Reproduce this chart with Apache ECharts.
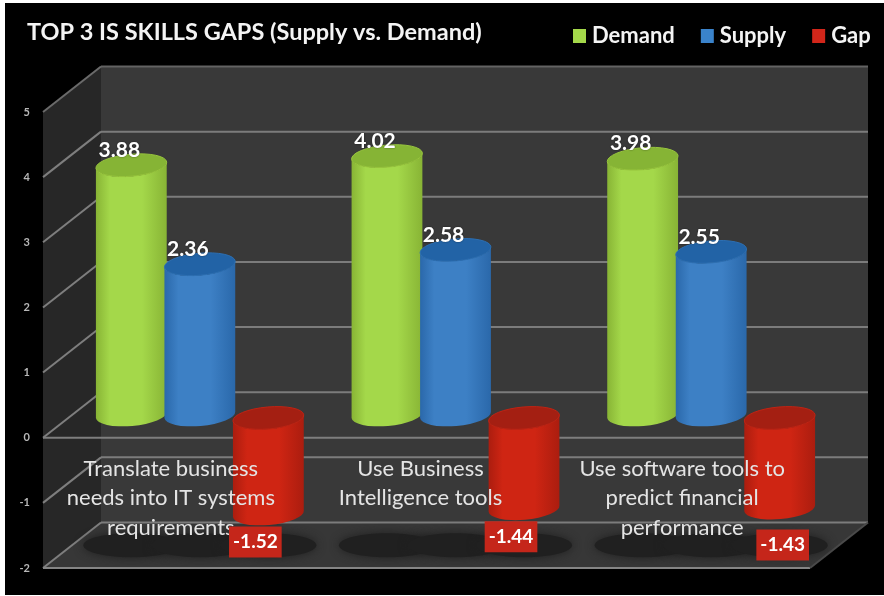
<!DOCTYPE html>
<html>
<head>
<meta charset="utf-8">
<title>Top 3 IS skills gaps</title>
<script src="https://cdn.jsdelivr.net/npm/echarts@6/dist/echarts.min.js"></script>
<style>
  html, body { margin: 0; padding: 0; background: #fff; }
  .frame { position: absolute; left: 5px; top: 3px; right: 0; bottom: 1px; background: #000; overflow: hidden; }
  #chart { position: absolute; left: -5px; top: -3px; width: 884px; height: 596px; filter: blur(0.5px); }
</style>
</head>
<body>
<div class="frame"><div id="chart"></div></div>
<script>
const categories = [
  'Translate business\nneeds into IT systems\nrequirements',
  'Use Business\nIntelligence tools',
  'Use software tools to\npredict financial\nperformance',
]
const demand = [3.88, 4.02, 3.98]
const supply = [2.36, 2.58, 2.55]
const gap = [-1.52, -1.44, -1.43]
const yTicks = [-2, -1, 0, 1, 2, 3, 4, 5]

// the gap boxes do not sit at the same place under each cylinder
const gapLabelNudge = [[-13, 28], [-13, 28], [3, 37]]
// right padding that pulls the middle category text off its band centre
const categoryPadRight = [0, 12, 0]

const FONT = 'Lato, "Open Sans", sans-serif'

// fake 3D: the back wall is the front plane pushed by this vector
const DEPTH_X = 58
const DEPTH_Y = -45.5
const TILT = 5 * Math.PI / 180
const CAP_DROP = 3

const palette = {
  demand: { edge: '#88b435', mid: '#a4d84a', top: '#86b435', rim: '#98c63d' },
  supply: { edge: '#2a68aa', mid: '#3d80c5', top: '#2263a6', rim: '#2c6fb3' },
  gap: { edge: '#ab1d0f', mid: '#cf2513', top: '#a41f12', rim: '#c02313' },
}

function hGrad(p) {
  return {
    type: 'linear', x: 0, y: 0, x2: 1, y2: 0,
    colorStops: [
      { offset: 0, color: p.edge },
      { offset: 0.2, color: p.mid },
      { offset: 0.65, color: p.mid },
      { offset: 1, color: p.edge },
    ],
  }
}

function renderWalls(params, api) {
  const cs = params.coordSys
  const left = cs.x
  const right = cs.x + cs.width
  const yAt = (v) => api.coord([0, v])[1]
  const top = yAt(5)
  const bottom = yAt(-2)
  const children = [
    { type: 'polygon', shape: { points: [[left, top], [left + DEPTH_X, top + DEPTH_Y], [left + DEPTH_X, bottom + DEPTH_Y], [left, bottom]] }, style: { fill: '#272727' } },
    { type: 'rect', shape: { x: left + DEPTH_X, y: top + DEPTH_Y, width: cs.width, height: cs.height }, style: { fill: '#393939' } },
    { type: 'polygon', shape: { points: [[left, bottom], [left + DEPTH_X, bottom + DEPTH_Y], [right + DEPTH_X, bottom + DEPTH_Y], [right, bottom]] }, style: { fill: '#373737' } },
  ]
  const line = (x1, y1, x2, y2, stroke) => ({
    type: 'line', shape: { x1, y1, x2, y2 }, style: { stroke, lineWidth: 2 },
  })
  yTicks.forEach((v) => {
    const y = yAt(v)
    children.push(line(left, y, left + DEPTH_X, y + DEPTH_Y, v === 5 ? '#6a6a6a' : '#7e7e7e'))
    children.push(line(left + DEPTH_X, y + DEPTH_Y, right + DEPTH_X, y + DEPTH_Y, v === 5 ? '#636363' : '#7c7c7c'))
  })
  children.push(line(left, yAt(0), right, yAt(0), '#7e7e7e'))
  children.push(line(left, bottom, right, bottom, '#858585'))
  children.push(line(right, bottom, right + DEPTH_X, bottom + DEPTH_Y, '#4a4a4a'))
  return { type: 'group', children }
}

function renderShadow(params, api) {
  const band = api.size([1, 0])[0]
  const c = api.coord([api.value(0), -2])
  const children = [-1, 0, 1].map((k) => ({
    type: 'ellipse',
    shape: { cx: c[0] + DEPTH_X / 2 + k * band * 0.268, cy: c[1] + DEPTH_Y / 2, rx: 48, ry: 12 },
    style: { fill: '#202020', shadowBlur: 10, shadowColor: '#202020' },
  }))
  return { type: 'group', children }
}

function cylinder(slot, p, withLabel) {
  return (params, api) => {
    const band = api.size([1, 0])[0]
    const a = band * 0.139
    const b = 11
    const i = api.value(0)
    const v = api.value(1)
    const cx = api.coord([i, 0])[0] + DEPTH_X / 2 + slot * band * 0.268
    const zeroY = api.coord([i, 0])[1] + DEPTH_Y / 2
    const valY = api.coord([i, v])[1] + DEPTH_Y / 2
    const yLabel = Math.min(zeroY, valY)
    const yTop = yLabel + CAP_DROP
    const yBot = Math.max(zeroY, valY)
    const dx = a * Math.cos(TILT)
    const dy = a * Math.sin(TILT)
    const rot = -5
    const body = `M${cx - dx} ${yTop + dy}L${cx - dx} ${yBot + dy}A${a} ${b} ${rot} 0 0 ${cx + dx} ${yBot - dy}L${cx + dx} ${yTop - dy}A${a} ${b} ${rot} 0 1 ${cx - dx} ${yTop + dy}Z`
    const cap = `M${cx - dx} ${yTop + dy}A${a} ${b} ${rot} 0 1 ${cx + dx} ${yTop - dy}A${a} ${b} ${rot} 0 1 ${cx - dx} ${yTop + dy}Z`
    const children = [
      { type: 'path', shape: { pathData: body }, style: { fill: hGrad(p) } },
      { type: 'path', shape: { pathData: cap }, style: { fill: p.top, stroke: p.rim, lineWidth: 1 } },
    ]
    if (withLabel) {
      children.push({
        type: 'text', z2: 10,
        style: {
          x: cx - 12, y: yLabel - 12, text: v.toFixed(2), fill: '#fff', align: 'center', verticalAlign: 'middle',
          font: `bold 21px ${FONT}`, textShadowColor: 'rgba(0,0,0,0.5)', textShadowBlur: 2,
        },
      })
    }
    return { type: 'group', children }
  }
}

function renderGapLabel(params, api) {
  const band = api.size([1, 0])[0]
  const i = api.value(0)
  const v = api.value(1)
  const nudge = gapLabelNudge[i]
  const cx = api.coord([i, 0])[0] + DEPTH_X / 2 + band * 0.268
  const y = api.coord([i, v])[1] + DEPTH_Y / 2
  return {
    type: 'text',
    style: {
      x: cx + nudge[0], y: y + nudge[1], text: v.toFixed(2), fill: '#fff', align: 'center', verticalAlign: 'middle',
      font: `bold 19px ${FONT}`, backgroundColor: '#c5261a', padding: [7, 4, 5, 4],
    },
  }
}

const rows = (values) => values.map((v, i) => [i, v])

const chart = echarts.init(document.getElementById('chart'))
chart.setOption({
  backgroundColor: 'transparent',
  animation: false,
  title: {
    text: 'TOP 3 IS SKILLS GAPS (Supply vs. Demand)',
    left: 22, top: 15,
    textStyle: { color: '#f4f4f4', fontFamily: FONT, fontWeight: 'bold', fontSize: 23.5 },
  },
  legend: {
    data: ['Demand', 'Supply', 'Gap'],
    left: 568, top: 20,
    icon: 'rect',
    itemWidth: 13, itemHeight: 14, itemGap: 26,
    selectedMode: false,
    textStyle: { color: '#f4f4f4', fontFamily: FONT, fontWeight: 'bold', fontSize: 22, padding: [0, 0, 0, 1] },
  },
  grid: { left: 43, right: 74, top: 112, bottom: 28 },
  xAxis: {
    type: 'category',
    // item textStyle replaces the axis default, so verticalAlign has to be repeated here
    data: categories.map((c, i) => ({ value: c, textStyle: { verticalAlign: 'top', padding: [0, categoryPadRight[i], 0, 0] } })),
    position: 'bottom',
    z: 3,
    axisLine: { show: false, onZero: false },
    axisTick: { show: false },
    axisLabel: {
      inside: true, interval: 0, margin: 114, verticalAlign: 'top',
      color: '#e4e4e4', fontFamily: FONT, fontSize: 22, lineHeight: 29.5,
    },
  },
  yAxis: {
    type: 'value', min: -2, max: 5, interval: 1,
    axisLine: { show: false }, axisTick: { show: false }, splitLine: { show: false },
    axisLabel: { color: '#b8b8b8', fontFamily: FONT, fontWeight: 'bold', fontSize: 11, margin: 13 },
  },
  series: [
    { name: 'walls', type: 'custom', z: 0, silent: true, data: [[0, 0]], renderItem: renderWalls },
    { name: 'shadow', type: 'custom', z: 1, silent: true, data: rows(gap), renderItem: renderShadow },
    { name: 'Demand', type: 'custom', z: 2, data: rows(demand), itemStyle: { color: '#a4d84a' }, renderItem: cylinder(-1, palette.demand, true) },
    { name: 'Supply', type: 'custom', z: 2, data: rows(supply), itemStyle: { color: '#3a83cb' }, renderItem: cylinder(0, palette.supply, true) },
    { name: 'Gap', type: 'custom', z: 2, data: rows(gap), itemStyle: { color: '#d2261a' }, renderItem: cylinder(1, palette.gap, false) },
    { name: 'gapLabels', type: 'custom', z: 4, silent: true, data: rows(gap), renderItem: renderGapLabel },
  ],
})
</script>
</body>
</html>
